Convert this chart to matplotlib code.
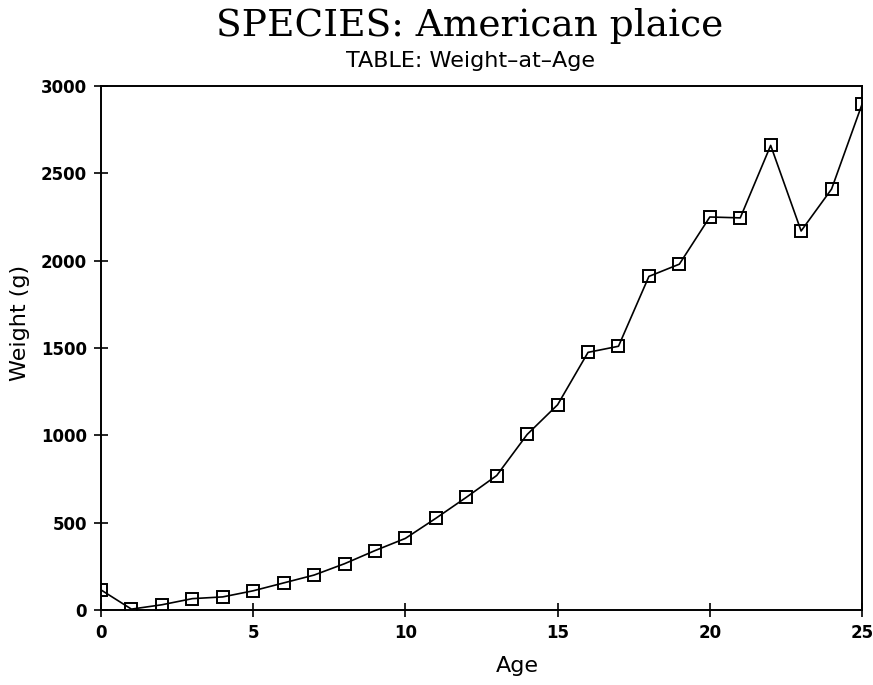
import matplotlib
matplotlib.use('agg')
import matplotlib.pyplot as plt

# Weight-at-age values
ages = list(range(0, 26))
weights = [115, 5, 30, 65, 75, 110, 155, 200, 265, 340, 410, 525, 645, 770,
           1005, 1175, 1475, 1510, 1910, 1980, 2250, 2245, 2660, 2170, 2410, 2895]

xTicks = [0, 5, 10, 15, 20, 25]
yTicks = [0, 500, 1000, 1500, 2000, 2500, 3000]

W, H = 873, 685
fig = plt.figure(figsize=(W / 100, H / 100), dpi=100)
ax = fig.add_axes([101 / W, 1 - 610 / H, 761 / W, 524 / H])

ax.plot(ages, weights, color='black', linewidth=1.2, marker='s', markersize=8.5,
        markerfacecolor='none', markeredgecolor='black', markeredgewidth=1.4)

ax.set_xlim(0, 25)
ax.set_ylim(0, 3000)
ax.set_xticks(xTicks)
ax.set_yticks(yTicks)
ax.tick_params(direction='inout', length=10, width=1.2, labelsize=12, pad=5)
for lbl in ax.get_xticklabels() + ax.get_yticklabels():
    lbl.set_fontweight('bold')
for spine in ax.spines.values():
    spine.set_linewidth(1.4)

# axis labels sit off-centre in the original
fig.text(517 / W, 1 - 666 / H, 'Age', ha='center', va='center', fontsize=16)
fig.text(20 / W, 1 - 323 / H, 'Weight (g)', ha='center', va='center',
         fontsize=16, rotation=90)

fig.text(470 / W, 1 - 26 / H, 'SPECIES: American plaice', ha='center', va='center',
         fontsize=27, family='DejaVu Serif')
fig.text(470 / W, 1 - 61 / H, 'TABLE: Weight\u2013at\u2013Age', ha='center', va='center',
         fontsize=16)

fig.savefig('out.png', dpi=100)
